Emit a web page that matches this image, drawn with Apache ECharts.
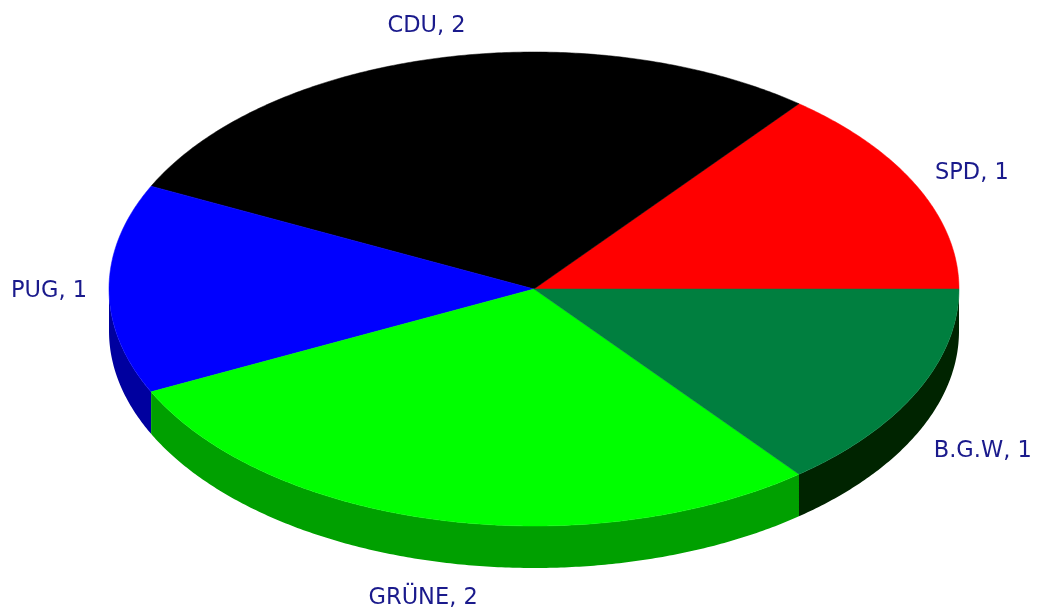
<!DOCTYPE html>
<html>
<head>
<meta charset="utf-8">
<style>
html,body{margin:0;padding:0;background:#fff;}
#main{width:1038px;height:614px;}
</style>
<script src="https://cdn.jsdelivr.net/npm/echarts@6/dist/echarts.min.js"></script>
</head>
<body>
<div id="main"></div>
<script>
var parties = ['SPD', 'CDU', 'PUG', 'GRÜNE', 'B.G.W'];
var seats = [1, 2, 1, 2, 1];
var topColors = ['#ff0000', '#000000', '#0000ff', '#00ff00', '#007f3f'];
var sideColors = ['#9f0000', '#000000', '#00009f', '#00a000', '#002400'];

var cx = 534, cy = 289, rx = 425, ry = 237, depth = 42;
var labelRx = 448, labelRy = 272;
var labelFont = '22.5px "DejaVu Sans"';

var total = 0;
for (var i = 0; i < seats.length; i++) {
    total += seats[i];
}
var measure = document.createElement('canvas').getContext('2d');
measure.font = labelFont;

//椭圆上的点
function ellipsePoint(deg, offset) {
    var rad = deg * Math.PI / 180;
    return [cx + rx * Math.cos(rad), cy - ry * Math.sin(rad) + (offset || 0)];
}
//弧线上的点
function arcPoints(from, to, offset) {
    var points = [];
    var steps = Math.max(2, Math.ceil(Math.abs(to - from) * 2));
    for (var i = 0; i <= steps; i++) {
        points.push(ellipsePoint(from + (to - from) * i / steps, offset));
    }
    return points;
}

function renderSlice(params, api) {
    var index = params.dataIndex;
    var before = 0;
    for (var i = 0; i < index; i++) {
        before += seats[i];
    }
    var start = before / total * 360;
    var end = (before + api.value(0)) / total * 360;
    var children = [];

    //侧面 只有下半部分能看到
    var sideFrom = Math.max(start, 180);
    if (end > sideFrom) {
        var side = arcPoints(sideFrom, end, 0).concat(arcPoints(end, sideFrom, depth));
        children.push({
            type: 'polygon',
            z2: 1,
            shape: {points: side},
            style: {fill: sideColors[index]}
        });
    }
    //顶面
    children.push({
        type: 'polygon',
        z2: 2,
        shape: {points: [[cx, cy]].concat(arcPoints(start, end, 0))},
        style: {fill: topColors[index], stroke: topColors[index], lineWidth: 0.5}
    });
    //标签
    var mid = (start + end) / 2 * Math.PI / 180;
    var cos = Math.cos(mid), sin = Math.sin(mid);
    var text = parties[index] + ', ' + api.value(0);
    var width = measure.measureText(text).width;
    var y = cy - labelRy * sin + (sin < 0 ? depth : 0) + 2;
    children.push({
        type: 'text',
        z2: 3,
        style: {
            x: cx + 1 + labelRx * cos - width * (1 - cos) / 2,
            y: y,
            text: text,
            fill: '#1a1a8c',
            font: labelFont,
            textAlign: 'left',
            textVerticalAlign: 'middle'
        }
    });
    return {type: 'group', children: children};
}

var myChart = echarts.init(document.getElementById('main'));
var option = {
    backgroundColor: '#ffffff',
    animation: false,
    series: [{
        type: 'custom',
        coordinateSystem: 'none',
        renderItem: renderSlice,
        data: seats
    }]
};
myChart.setOption(option);
</script>
</body>
</html>
